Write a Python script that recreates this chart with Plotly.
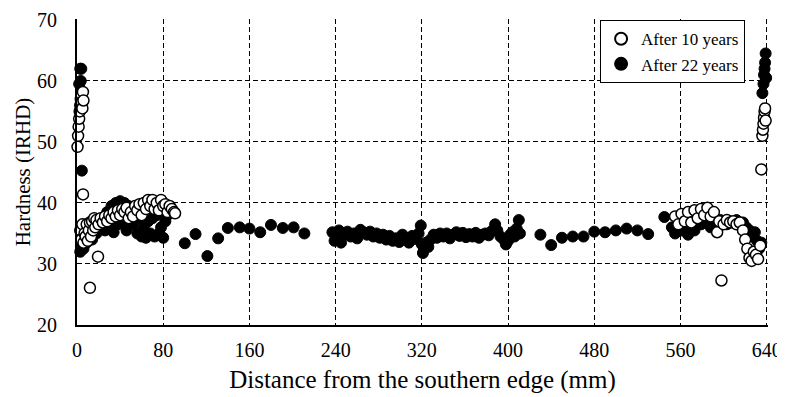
import plotly.graph_objects as go

# ---------------- data ----------------
# After 10 years (open circles)
x10 = [0.5, 1, 1.5, 2, 2.5, 3, 3.5, 4, 4.5, 5, 5.5, 6,
       5.6, 12, 19.5,
       3, 4, 5, 6, 7, 8, 9, 10, 11, 12, 13, 14, 15, 16, 17, 18, 20, 22, 24, 26, 28,
       30, 32, 34, 36, 38, 40, 42, 44, 46, 48, 50, 52, 54, 56, 58, 60, 62, 64, 66,
       68, 70, 72, 74, 76, 78, 80, 82, 84, 86, 88, 90, 91,
       555, 558, 561, 564, 567, 570, 573, 576, 579, 582, 585, 588, 591, 594, 596,
       598, 600, 603, 606, 609, 612, 615, 618, 620, 622, 624, 626, 628, 630, 632,
       634, 635, 636, 636.5, 637, 637.5, 638, 638.5, 639]
y10 = [49.2, 51, 52.5, 53.8, 55, 56, 57, 57.8, 56.5, 55.5, 58.2, 56.8,
       41.4, 26.1, 31.2,
       35.5, 34, 36.5, 33.5, 35, 34.5, 36.5, 33.8, 35.5, 36.8, 34.5, 37, 35.5, 37.5,
       36, 37.2, 36.5, 37.5, 36.8, 37.8, 37, 38, 37.5, 38.5, 37.8, 38.8, 38, 39,
       38.5, 39.2, 37.5, 38.5, 37.8, 39.5, 38.8, 39.8, 38, 40, 39, 40.5, 39.5, 40.5,
       39, 40, 38.8, 40.5, 39.5, 39.8, 38.5, 39.5, 39, 38.5, 38.3,
       37.8, 36.5, 38.2, 37, 38.5, 36.8, 38.8, 37.5, 39, 38, 39.2, 37.8, 38.5, 35.2,
       37, 27.3, 36.5, 37.2, 36.8, 37, 36.5, 36.8, 35.5, 34, 32.5, 31, 30.5, 32,
       31.5, 30.8, 33, 45.5, 51, 52, 53, 54, 55, 55.5, 53.5]

# After 22 years (filled circles)
x22 = [2, 3, 4, 4.5, 3.5,
       3, 4, 5, 6, 7, 8, 9, 10, 12, 14, 16, 18, 20, 22, 24, 26, 28, 30, 32, 34, 36,
       38, 40, 42, 44, 46, 48, 50, 52, 54, 56, 58, 60, 62, 64, 66, 68, 70, 72, 74,
       76, 78, 80, 82, 84, 86,
       100, 110, 121, 131, 140, 151, 160, 170, 180, 191, 201, 211,
       237, 239, 241, 243, 245, 248, 251, 254, 257, 260, 263, 266, 269, 272, 275,
       278, 281, 284, 287, 290, 293, 296, 299, 302, 305, 308, 311, 314, 317, 319,
       320, 321, 322, 324, 326, 328, 331, 334, 337, 340, 343, 346, 349, 352, 355,
       358, 361, 364, 367, 370, 373, 376, 379, 382, 385, 388, 390, 393, 396, 398,
       400, 402, 404, 406, 408, 410, 411,
       430, 440, 450, 460, 470, 480, 490, 500, 510, 520, 530, 545,
       552, 555, 558, 561, 564, 567, 570, 573, 576, 579, 582, 585, 588, 591, 594,
       597, 600, 603, 606, 609, 612, 615, 618, 621, 624, 627, 629, 631, 633, 635,
       636, 637, 637.5, 638, 638.5, 639, 639.5]
y22 = [59.5, 62, 62, 45.3, 60,
       32, 33.5, 35, 32.5, 34, 35.5, 33.5, 34.8, 35.5, 34, 36, 35, 36.5, 35.8, 37.5,
       35.5, 38.5, 36, 39.5, 35.2, 40, 36.5, 40.3, 37, 40, 35.5, 39.5, 37, 36.5, 38,
       35, 37.5, 34.5, 36, 34.3, 37, 35, 37.5, 34.5, 38, 35, 36, 34.3, 37, 38, 38.5,
       33.4, 34.9, 31.3, 34.2, 35.9, 36, 35.8, 35.2, 36.4, 35.9, 36, 35,
       35.2, 33.8, 34.5, 35.5, 33.5, 34.8, 35.3, 34.5, 35.0, 34.2, 35.6, 35.2, 34.8,
       35.3, 34.5, 35.0, 34.3, 34.8, 34.0, 34.6, 33.8, 34.2, 33.6, 34.8, 34.0, 33.5,
       34.6, 34.1, 35.0, 36.3, 33.2, 31.8, 32.5, 33.5, 32.8, 34.0, 34.8, 34.3, 35.0,
       34.5, 35.0, 34.2, 34.8, 35.2, 34.6, 35.1, 34.4, 34.9, 34.5, 35.1, 34.3, 34.8,
       35.0, 34.7, 35.4, 36.5, 35.5, 34.5, 34.0, 33.2, 33.8, 34.8, 35.2, 34.5, 35.8,
       37.2, 35.0,
       34.8, 33.1, 34.3, 34.5, 34.5, 35.3, 35.2, 35.5, 35.8, 35.5, 34.9, 37.7,
       36, 35, 37, 35.5, 36.8, 34.8, 36, 35.5, 37.5, 36.5, 38, 37, 36, 37.5, 36.8,
       37.2, 37, 36.5, 37, 36.8, 37.2, 36.5, 36.8, 36, 35.5, 34.5, 35.2, 33.8, 32.5,
       33.5, 58, 59.5, 61, 62, 63, 64.5, 60.5]

x_ticks = [0, 80, 160, 240, 320, 400, 480, 560, 640]
y_ticks = [20, 30, 40, 50, 60, 70]

FONT = "Liberation Serif, Times New Roman, serif"

fig = go.Figure()
fig.add_trace(go.Scatter(
    x=x22, y=y22, mode="markers", name="After 22 years",
    marker=dict(symbol="circle", size=11, color="black",
                line=dict(color="black", width=1)),
    cliponaxis=False, legendrank=2))
fig.add_trace(go.Scatter(
    x=x10, y=y10, mode="markers", name="After 10 years",
    marker=dict(symbol="circle", size=11, color="white",
                line=dict(color="black", width=1.5)),
    cliponaxis=False, legendrank=1))

axis_common = dict(
    showgrid=True, gridcolor="black", griddash="5px,3px", gridwidth=1,
    showline=True, linecolor="black", linewidth=2, mirror=False,
    zeroline=False, ticks="", automargin=False,
    tickfont=dict(family=FONT, size=20, color="black"),
)
# ranges extended by a hair so the dashed gridlines at 70 and 640 stay drawn
fig.update_xaxes(range=[0, 641.2], tickvals=x_ticks, ticklabelstandoff=6,
                 title=dict(text="Distance from the southern edge (mm)",
                            font=dict(family=FONT, size=25, color="black"),
                            standoff=10),
                 **axis_common)
fig.update_yaxes(range=[20, 70.15], tickvals=y_ticks, ticklabelstandoff=14,
                 title=dict(text="Hardness (IRHD)",
                            font=dict(family=FONT, size=21, color="black"),
                            standoff=1),
                 **axis_common)

# the page body adds an 8px margin, so the figure is 8px smaller and margins shifted
fig.update_layout(
    width=777, height=389,
    margin=dict(l=69, r=17, t=11, b=72),
    paper_bgcolor="white", plot_bgcolor="white",
    font=dict(family=FONT, color="black"),
    legend=dict(x=0.757, y=0.996, xanchor="left", yanchor="top",
                bgcolor="white", bordercolor="black", borderwidth=1,
                font=dict(family=FONT, size=17, color="black"),
                itemsizing="constant", tracegroupgap=0),
    showlegend=True,
)

fig.write_html("out.html")
